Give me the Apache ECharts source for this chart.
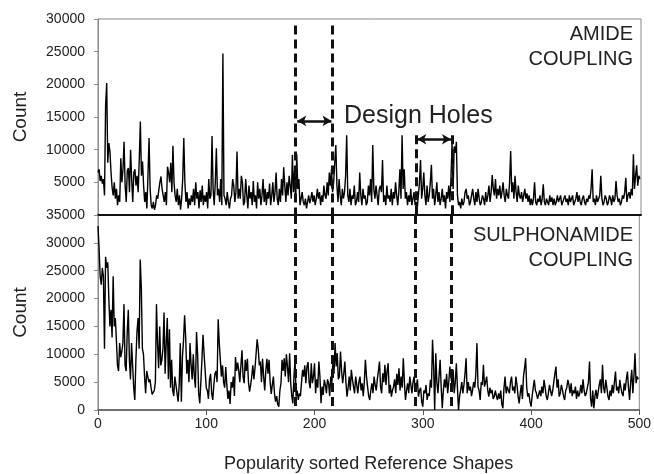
<!DOCTYPE html>
<html><head><meta charset="utf-8">
<script src="https://cdn.jsdelivr.net/npm/echarts/dist/echarts.min.js"></script>
<style>html,body{margin:0;padding:0;background:#fff}#c{width:654px;height:474px}</style>
</head><body><div id="c"></div>
<script>
// Popularity-sorted reference shapes (index 0..499)
const amideCounts = [
6500,7000,5200,6000,4800,5500,3000,16800,20200,8000,
11000,9700,6500,4200,3000,5000,2500,4000,1500,3000,
2000,8700,5000,7000,11200,4500,2000,6800,7200,3500,
10000,5500,2000,6500,7000,4500,6000,3500,8500,14300,
6000,8200,4500,2000,3500,1000,6000,11800,4000,1500,
1000,2000,800,1500,3000,2500,3800,5000,5900,4000,
3000,2000,3500,1500,7400,6500,5000,8000,3500,10600,
5000,3000,2000,4000,1500,3000,800,2500,5500,11800,
5000,2000,3500,1000,2500,1500,3000,2000,4000,1500,
5000,2500,3500,1000,3800,2000,4500,1500,3000,2000,
3500,1000,5500,2500,3000,12100,4000,1500,5000,10200,
3000,4000,2000,5500,1500,24700,3000,2500,1500,3500,
2000,1000,2500,3000,5500,4500,2000,3500,9700,2500,
4000,2500,6000,5000,1500,2000,5500,3000,1000,4500,
2500,3500,1500,5200,2000,3000,1000,5000,2500,4000,
1500,3000,5500,2000,4000,1500,3500,2500,4800,1500,
3000,5000,2000,3500,6500,2500,1500,4000,2000,5500,
3000,7300,4500,2000,5000,3000,6000,4500,2500,9200,
3500,6800,2000,9300,4000,5500,1500,2500,3500,2000,
1500,2500,1000,2000,3000,1800,2500,3500,2000,3000,
1500,2500,4000,2500,3500,1500,3000,2000,4500,3000,
2500,5000,3000,6500,4500,7000,3500,5000,8000,10700,
4500,2000,5500,3000,1500,4000,2500,3500,6000,12200,
3000,2000,4000,1500,3000,2500,4500,1500,2000,3500,
2000,6500,3000,1500,4000,2500,3000,1500,2000,4500,
3000,5500,2000,10700,4000,2500,4500,3000,1500,4000,
4500,3500,8400,2000,3000,1500,4500,2500,3000,2000,
4000,1500,3500,2500,5000,3000,1500,3500,7000,2500,
12200,4000,7000,2500,3500,1500,3000,2000,4000,1500,
2500,3500,1500,2000,1000,3000,5000,8400,2500,4000,
6500,3000,1500,4500,2000,3000,5000,7700,2500,4000,
1500,3000,5000,2000,3500,1500,2500,4000,2000,3000,
1000,3500,2500,4500,2000,5500,11000,4000,10500,9500,
11200,3000,1500,2000,1000,2500,1500,2000,3500,4000,
2500,3000,1500,2000,3000,4000,2500,1500,3500,2000,
4000,2500,1500,2000,3000,2500,1500,3500,2000,3000,
4500,2000,3500,6100,4000,3000,5500,2500,4000,3000,
4500,2500,3500,5000,3000,2000,4000,3000,2500,5000,
9800,3500,5000,2500,6000,3500,2000,4500,3000,2500,
3500,2000,3000,4000,2500,3300,2000,3000,1500,2500,
1500,2500,5000,2000,1500,2500,2000,3000,1500,2500,
4700,2000,1500,2500,2000,1500,3000,2000,2700,1500,
2500,1500,2000,3000,2000,2500,3000,1500,2000,2500,
3000,2000,2500,1500,3000,2000,2500,3000,1500,2000,
2500,3500,2000,3000,2000,1500,2500,3000,2000,1500,
2500,2000,3000,2500,4000,7000,2000,2500,1500,3000,
2000,2500,3000,6000,2500,1500,2000,3000,2500,1500,
2000,3000,2500,1500,3000,2000,2500,5200,3000,2000,
2500,1500,2000,3000,2500,3500,5700,2000,3000,3500,
2500,4000,3000,9300,4000,6000,7600,4500,6000,5500
];
const sulphonamideCounts = [
33000,29000,24000,22500,25500,24000,11000,27500,25500,26500,
20000,15000,18000,13000,24000,15000,16500,12500,8000,7000,
12000,9500,10500,12000,19000,8000,7000,14000,18000,9000,
5500,12000,8000,4000,1800,9000,14000,16500,11000,27000,
22000,11000,10000,6000,3000,7000,6800,5000,5500,4000,
2800,3000,3500,5000,19000,12000,7500,15000,8000,9000,
11000,17500,6500,12000,16500,5500,14500,4000,9000,3500,
2500,6000,4500,3000,1500,4500,12000,1500,9500,12500,
17000,13000,6500,9000,5000,12000,8000,5500,10000,6000,
4000,14000,10000,3000,1200,5000,9000,13500,10000,7000,
4000,3500,2000,5500,6500,3000,1800,4500,6500,7000,
5000,16300,12000,9000,6000,8000,5000,4000,7700,4500,
2000,3500,1100,5000,4000,6000,2500,9500,7000,8500,
7100,5000,8000,10700,6000,4800,9000,7000,9200,5000,
3300,4500,6000,8000,5500,7500,10000,12700,11000,8000,
8700,5000,9200,6000,3500,7000,9200,6500,9000,5000,
2900,4500,6000,3000,1500,2500,1000,600,3500,4800,
9000,7000,9300,6000,10000,7800,5000,10200,4800,2500,
1200,6000,9000,2400,3500,1800,3000,2500,5000,7200,
6000,8000,4800,7800,8600,5000,3900,8400,4800,6000,
8400,3000,5500,4000,8700,6000,1200,4200,2700,5400,
4500,3000,5500,4800,2500,6000,4800,9000,6500,12000,
7800,10200,5500,6000,10500,7000,4800,6500,8700,5000,
2400,4000,6000,3500,7200,5500,4200,3000,6000,4500,
3000,5000,6000,3500,4800,2500,5000,9000,6000,4200,
2500,1800,3500,4800,3000,6000,4500,3500,5500,7000,
8700,4200,3000,6600,5000,8100,4500,7000,8400,3000,
4500,2400,3500,4200,5500,3000,6500,4500,7500,3500,
6000,4000,9300,5000,1800,3500,4800,3000,6000,4500,
3000,5000,6000,3500,4200,5500,2400,3500,4000,1500,
600,3500,3000,4500,1800,3000,2500,5400,4000,12600,
7800,0,10200,5000,3000,6000,9000,4000,300,3500,
5500,4000,6500,3000,5000,7800,6000,4500,7200,3000,
5000,8400,4000,0,2500,3600,5000,3000,4500,6500,
9300,3000,5000,3500,4200,2500,3600,5000,4000,6500,
12000,4200,3500,1800,5000,4500,8100,4200,5000,6000,
3500,2400,4000,3000,3600,2000,2400,3500,2500,1800,
3000,2000,3500,1000,300,4000,6000,3000,4200,3500,
3000,5000,6000,3500,4200,3000,6000,4500,2500,1200,
3000,4500,2000,6000,7500,9300,4000,2400,3000,1500,
600,2500,4000,5400,3500,3000,2000,1800,3500,2500,
4200,3000,5400,4000,2500,1800,3000,4500,3500,2500,
3500,5000,6500,7800,4000,5500,2400,3000,4500,3600,
2500,1800,3500,4000,5400,4500,3000,4800,2500,3500,
3000,4200,2000,3500,2400,3000,4500,3000,5500,3500,
2500,3000,4000,5000,8700,2000,600,3500,300,2500,
3600,2000,1800,4500,5500,3000,8100,4000,3000,5400,
4000,2500,1800,3500,2500,4500,3000,5000,6900,3500,
4200,3000,5400,4000,3000,2500,4800,3500,5500,6900,
4000,1800,5000,7200,3000,6000,10200,4800,6000,5500
];
const designHoleEdges = [182, 216, 293, 326];
const xTicks = [0, 100, 200, 300, 400, 500];
const topTicks = [0, 5000, 10000, 15000, 20000, 25000, 30000];
const bottomTicks = [0, 5000, 10000, 15000, 20000, 25000, 30000, 35000];

const FONT = '"Liberation Sans", Arial, sans-serif';
const TXT = '#222';
const AX = '#8a8a8a';
const dashStyle = {color: '#111', width: 3, type: [9, 5]};
const arrowStyle = {color: '#111', width: 2.5, type: 'solid'};

function vline(x, y1, y2) {
  return [{coord: [x, y1], lineStyle: dashStyle}, {coord: [x, y2]}];
}
function arrow(x1, x2, y) {
  return [{coord: [x1, y], symbol: 'arrow', symbolSize: [8, 9], lineStyle: arrowStyle},
          {coord: [x2, y], symbol: 'arrow', symbolSize: [8, 9]}];
}
function yAxisOpt(idx, max, showMin) {
  return {
    gridIndex: idx, type: 'value', min: 0, max: max, interval: 5000,
    axisLine: {show: true, lineStyle: {color: AX, width: 1}},
    axisTick: {show: true, length: 4, lineStyle: {color: AX}},
    axisLabel: {fontSize: 14, color: TXT, fontFamily: FONT, margin: 13, showMinLabel: showMin,
                formatter: v => String(v)},
    splitLine: {show: false},
    name: 'Count', nameLocation: 'middle', nameRotate: 90, nameGap: 68,
    nameTextStyle: {fontSize: 19, color: TXT, fontFamily: FONT}
  };
}
function label(text, right, top) {
  return {type: 'text', right: right, top: top, style: {text: text, font: '20px ' + FONT, fill: TXT}};
}

const chart = echarts.init(document.getElementById('c'), null, {renderer: 'canvas'});
chart.setOption({
  animation: false,
  backgroundColor: '#fff',
  grid: [
    {left: 98, top: 19, width: 543, height: 196, show: true, borderColor: AX, borderWidth: 1, backgroundColor: 'transparent'},
    {left: 98, top: 215, width: 543, height: 195, show: true, borderColor: AX, borderWidth: 1, backgroundColor: 'transparent'}
  ],
  xAxis: [
    {gridIndex: 0, type: 'value', min: 0, max: 500, interval: 100,
     axisLine: {show: true, onZero: false, lineStyle: {color: '#111', width: 2}},
     axisTick: {show: false}, axisLabel: {show: false}, splitLine: {show: false}},
    {gridIndex: 1, type: 'value', min: 0, max: 500, interval: 100,
     axisLine: {show: true, onZero: false, lineStyle: {color: '#555', width: 1.5}},
     axisTick: {show: true, length: 5, lineStyle: {color: '#555'}},
     axisLabel: {fontSize: 14, color: TXT, fontFamily: FONT, margin: 7},
     splitLine: {show: false},
     name: 'Popularity sorted Reference Shapes', nameLocation: 'middle', nameGap: 45,
     nameTextStyle: {fontSize: 18, color: TXT, fontFamily: FONT}}
  ],
  yAxis: [yAxisOpt(0, 30000, false), yAxisOpt(1, 35000, true)],
  series: [
    {type: 'line', xAxisIndex: 0, yAxisIndex: 0, symbol: 'none', silent: true,
     data: amideCounts.map((v, i) => [i, v]),
     lineStyle: {color: '#000', width: 1.4},
     markLine: {silent: true, symbol: ['none', 'none'], label: {show: false},
       data: [
         vline(designHoleEdges[0], 29000, 0),
         vline(designHoleEdges[1], 29000, 0),
         vline(designHoleEdges[2], 12200, 0),
         vline(designHoleEdges[3], 12200, 0),
         arrow(designHoleEdges[0] + 1.5, designHoleEdges[1] - 1, 14400),
         arrow(designHoleEdges[2] + 1, designHoleEdges[3] - 1, 11600)
       ]}},
    {type: 'line', xAxisIndex: 1, yAxisIndex: 1, symbol: 'none', silent: true,
     data: sulphonamideCounts.map((v, i) => [i, v]),
     lineStyle: {color: '#000', width: 1.4},
     markLine: {silent: true, symbol: ['none', 'none'], label: {show: false},
       data: designHoleEdges.map(x => vline(x, 35000, 500))}}
  ],
  graphic: [
    {type: 'text', left: 344, top: 104, style: {text: 'Design Holes', font: '25px ' + FONT, fill: TXT}},
    label('AMIDE', 21, 24),
    label('COUPLING', 21, 49),
    label('SULPHONAMIDE', 21, 225),
    label('COUPLING', 21, 250)
  ]
});
</script></body></html>
